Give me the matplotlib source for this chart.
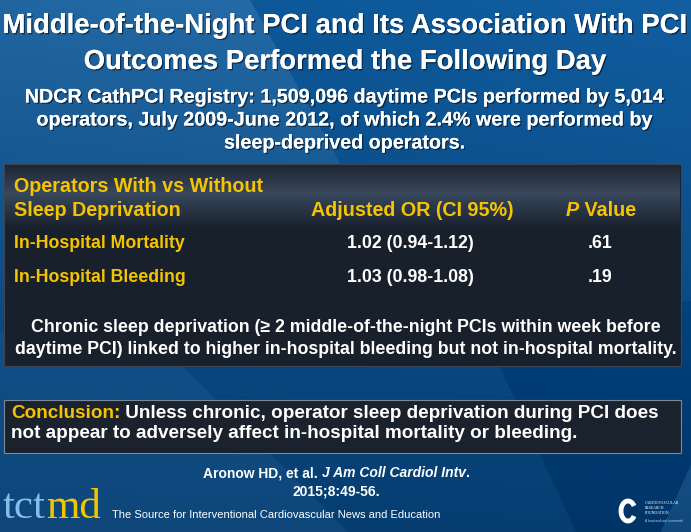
import numpy as np
import matplotlib
matplotlib.use("Agg")
import matplotlib.pyplot as plt
from matplotlib.patches import Rectangle, Arc
import matplotlib.patheffects as pe

# slide content
title_lines = ["Middle-of-the-Night PCI and Its Association With PCI",
               "Outcomes Performed the Following Day"]
sub_lines = ["NDCR CathPCI Registry: 1,509,096 daytime PCIs performed by 5,014",
             "operators, July 2009-June 2012, of which 2.4% were performed by",
             "sleep-deprived operators."]
outcomes = ["In-Hospital Mortality", "In-Hospital Bleeding"]
odds_ratios = ["1.02 (0.94-1.12)", "1.03 (0.98-1.08)"]
p_values = [".61", ".19"]
note_lines = ["Chronic sleep deprivation (\u2265 2 middle-of-the-night PCIs within week before",
              "daytime PCI) linked to higher in-hospital bleeding but not in-hospital mortality."]
concl_lines = ["Unless chronic, operator sleep deprivation during PCI does",
               "not appear to adversely affect in-hospital mortality or bleeding."]

W, H = 691, 532
YEL = "#f5c400"
plt.rcParams['font.family'] = ['Liberation Sans', 'DejaVu Sans']

fig = plt.figure(figsize=(W / 100, H / 100), dpi=100)
ax = fig.add_axes([0, 0, 1, 1])
ax.set_xlim(0, W)
ax.set_ylim(H, 0)
ax.axis('off')

# background: blue with soft diagonal panels
yy, xx = np.mgrid[0:H, 0:W].astype(float)
t = (yy / H)[..., None]
top = np.array([0.04, 0.33, 0.58])
bot = np.array([0.02, 0.24, 0.44])
bg = top * (1 - t) + bot * t
bg += (0.05 * (xx / W) * (1 - yy / H))[..., None] * np.array([0.6, 0.8, 1.0])
light_a = (xx < 250 + 0.55 * yy) & (yy < 330)
bg += (light_a * 0.09 * (1 - yy / 400))[..., None] * np.array([1.0, 0.8, 0.6])
light_b = (xx < 189 + (yy - 372) * 1.0) & (yy > 330)
bg += (light_b * 0.035)[..., None]
dark_c = (xx > 502 + 0.46 * (yy - 372)) & (yy > 300)
bg -= (dark_c * 0.035)[..., None]
light_d = xx > 690 - (yy - 465) * 0.45
bg += (light_d * 0.08)[..., None]
bg = np.clip(bg, 0, 1)
ax.imshow(bg, extent=[0, W, H, 0], aspect='auto', zorder=0)

shadow = [pe.withSimplePatchShadow(offset=(1, -1), shadow_rgbFace='black', alpha=0.5), pe.Normal()]

# title
for i, s in enumerate(title_lines):
    ax.text(W / 2, 26 + i * 36, s, color='white', fontsize=19.8, fontweight='bold',
            ha='center', va='center', path_effects=shadow)
for i, s in enumerate(sub_lines):
    ax.text(W / 2 - 1, 97 + i * 23, s, color='white', fontsize=14.2, fontweight='bold',
            ha='center', va='center', path_effects=shadow)

# table box
ax.add_patch(Rectangle((4, 164), 677, 202, facecolor='#18202b', edgecolor='#3a4654', lw=0.8, zorder=1))
prof_y = np.array([0, 0.45, 1.0])
prof_c = np.array([[0.12, 0.15, 0.20], [0.22, 0.28, 0.36], [0.10, 0.13, 0.18]])
ys = np.linspace(0, 1, 80)
hdr_img = np.stack([np.interp(ys, prof_y, prof_c[:, k]) for k in range(3)], axis=-1)[:, None, :]
hdr_img = np.repeat(hdr_img, 2, axis=1)
ax.imshow(hdr_img, extent=[5, 680, 228, 165], aspect='auto', zorder=1.5)

ax.text(14, 186, "Operators With vs Without", color=YEL, fontsize=14.2, fontweight='bold', va='center', zorder=3)
ax.text(14, 210, "Sleep Deprivation", color=YEL, fontsize=14.2, fontweight='bold', va='center', zorder=3)
ax.text(412, 210, "Adjusted OR (CI 95%)", color=YEL, fontsize=14.2, fontweight='bold', ha='center', va='center', zorder=3)
p_t = ax.text(566, 210, "P", color=YEL, fontsize=14.2, fontweight='bold', style='italic', va='center', zorder=3)
ax.annotate(" Value", xy=(1, 0), xycoords=p_t, va='bottom', ha='left', color=YEL,
            fontsize=14.2, fontweight='bold', zorder=3)

for i, (o, r, p) in enumerate(zip(outcomes, odds_ratios, p_values)):
    y = 243 + i * 35
    ax.text(14, y, o, color=YEL, fontsize=12.8, fontweight='bold', va='center', zorder=3)
    ax.text(410, y, r, color='white', fontsize=12.8, fontweight='bold', ha='center', va='center', zorder=3)
    ax.text(600, y, p, color='white', fontsize=12.8, fontweight='bold', ha='center', va='center', zorder=3)

for i, s in enumerate(note_lines):
    ax.text(W / 2, 327 + i * 22, s, color='white', fontsize=12.8, fontweight='bold',
            ha='center', va='center', zorder=3)

# conclusion box
ax.add_patch(Rectangle((4, 400), 677, 53, facecolor='#1a222d', edgecolor='#7c8896', lw=0.8, zorder=1))
c_t = ax.text(11, 413, "Conclusion:", color=YEL, fontsize=13.6, fontweight='bold', va='center', zorder=3)
ax.annotate(" " + concl_lines[0], xy=(1, 0), xycoords=c_t, va='bottom', ha='left', color='white',
            fontsize=13.6, fontweight='bold', zorder=3)
ax.text(11, 434, concl_lines[1], color='white', fontsize=13.6, fontweight='bold', va='center', zorder=3)

# citation
a_t = ax.text(203, 473, "Aronow HD, et al. ", color='white', fontsize=10, fontweight='bold', va='center')
j_t = ax.annotate("J Am Coll Cardiol Intv", xy=(1, 0), xycoords=a_t, va='bottom', ha='left', color='white',
                  fontsize=10, fontweight='bold', style='italic')
ax.annotate(".", xy=(1, 0), xycoords=j_t, va='bottom', ha='left', color='white',
            fontsize=10, fontweight='bold')
ax.text(336, 491, "2015;8:49-56.", color='white', fontsize=10, fontweight='bold', ha='center', va='center')

# tctmd logo
tct = ax.text(3, 518, "tct", color='#86bde8', fontsize=31, family='Liberation Serif', va='baseline')
ax.annotate("md", xy=(1, 0), xycoords=tct, va='bottom', ha='left', color=YEL,
            fontsize=31, family='Liberation Serif')
ax.text(112, 515, "The Source for Interventional Cardiovascular News and Education",
        color='white', fontsize=8, va='center')

# CRF logo
ax.add_patch(Arc((628, 511), 14, 20, theta1=40, theta2=320, color='white', lw=3.5))
for i, s in enumerate(["CARDIOVASCULAR", "RESEARCH", "FOUNDATION"]):
    ax.text(645, 503 + i * 5, s, color='white', fontsize=2.8, family='Liberation Serif', va='center')
ax.text(645, 521, "A heart and soul in research", color='white', fontsize=2.2, va='center', alpha=0.8)

fig.savefig("out.png", dpi=100)
